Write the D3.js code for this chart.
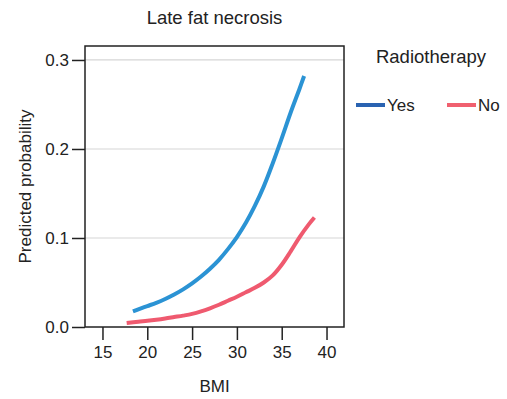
<!DOCTYPE html>
<html lang="en">
<head>
  <meta charset="UTF-8">
  <title>Late fat necrosis</title>
  <script src="https://d3js.org/d3.v7.min.js"></script>
  <style>
    body { margin: 0; background: #fff; }
    text { font-family: "Liberation Sans", Arial, sans-serif; fill: #222; }
  </style>
</head>
<body>
  <script>
    // Chart size
    const width = 507;
    const height = 399;
    const fontSize = 17;
    const titleSize = 18.5;

    // Plot area (pixels)
    const margin = { left: 85, right: 163, top: 46, bottom: 72 };

    // Data
    const yesBMI = [18.4, 19, 20, 21, 22, 23, 24, 25, 26, 27, 28, 29, 30, 31, 32, 33, 34, 35, 36, 37, 37.5];
    const yesProb = [0.0175, 0.0198, 0.0235, 0.0272, 0.0315, 0.0365, 0.0423, 0.049, 0.0567, 0.0655, 0.0755, 0.0875, 0.101, 0.117, 0.136, 0.158, 0.184, 0.212, 0.241, 0.268, 0.282];

    const noBMI = [17.7, 19, 20, 21, 22, 23, 24, 25, 26, 27, 28, 29, 30, 31, 32, 33, 34, 35, 36, 37, 38, 38.65];
    const noProb = [0.0045, 0.006, 0.007, 0.0082, 0.0096, 0.0112, 0.0128, 0.0147, 0.0175, 0.021, 0.025, 0.0295, 0.034, 0.039, 0.044, 0.050, 0.058, 0.070, 0.085, 0.101, 0.115, 0.123];

    const xTicks = [15, 20, 25, 30, 35, 40];
    const yTicks = [0.0, 0.1, 0.2, 0.3];

    const seriesNames = ["Yes", "No"];
    const lineColors = ["#2b93d4", "#ef5a6f"];
    const legendColors = ["#2a63b1", "#f0606f"];

    // Create an SVG element
    const svg = d3.select("body")
      .append("svg")
      .attr("width", width)
      .attr("height", height);

    const x = d3.scaleLinear()
      .domain([13.05, 41.95])
      .range([margin.left, width - margin.right]);

    const y = d3.scaleLinear()
      .domain([0, 0.3157])
      .range([height - margin.bottom, margin.top]);

    const plotCenter = (margin.left + width - margin.right) / 2;

    // Gridlines
    svg.append("g")
      .selectAll("line")
      .data(yTicks.filter(d => d > 0))
      .enter()
      .append("line")
      .attr("x1", margin.left)
      .attr("x2", width - margin.right)
      .attr("y1", d => y(d))
      .attr("y2", d => y(d))
      .attr("stroke", "#d6d6d6")
      .attr("stroke-width", 1.2);

    // Lines
    const line = d3.line()
      .x(d => x(d[0]))
      .y(d => y(d[1]))
      .curve(d3.curveCatmullRom);

    const series = [
      d3.zip(yesBMI, yesProb),
      d3.zip(noBMI, noProb)
    ];

    svg.append("g")
      .selectAll("path")
      .data(series)
      .enter()
      .append("path")
      .attr("d", line)
      .attr("fill", "none")
      .attr("stroke", (d, i) => lineColors[i])
      .attr("stroke-width", 4);

    // Frame
    svg.append("rect")
      .attr("x", margin.left)
      .attr("y", margin.top)
      .attr("width", width - margin.left - margin.right)
      .attr("height", height - margin.top - margin.bottom)
      .attr("fill", "none")
      .attr("stroke", "#222")
      .attr("stroke-width", 1.5);

    // Axes
    const xAxis = svg.append("g")
      .attr("transform", `translate(0,${height - margin.bottom})`)
      .call(d3.axisBottom(x).tickValues(xTicks).tickSize(13).tickPadding(6).tickFormat(d3.format("d")));

    const yAxis = svg.append("g")
      .attr("transform", `translate(${margin.left},0)`)
      .call(d3.axisLeft(y).tickValues(yTicks).tickSize(13).tickPadding(3).tickFormat(d3.format(".1f")));

    [xAxis, yAxis].forEach(g => {
      g.select(".domain").remove();
      g.selectAll(".tick line").attr("stroke", "#222").attr("stroke-width", 1.5);
      g.selectAll(".tick text")
        .attr("font-size", fontSize)
        .attr("font-family", "Liberation Sans, Arial, sans-serif")
        .attr("fill", "#222");
    });

    // Titles
    svg.append("text")
      .attr("x", plotCenter)
      .attr("y", 24)
      .attr("text-anchor", "middle")
      .attr("font-size", titleSize)
      .text("Late fat necrosis");

    svg.append("text")
      .attr("x", plotCenter)
      .attr("y", 392)
      .attr("text-anchor", "middle")
      .attr("font-size", fontSize)
      .text("BMI");

    svg.append("text")
      .attr("transform", `translate(31,${(margin.top + height - margin.bottom) / 2}) rotate(-90)`)
      .attr("text-anchor", "middle")
      .attr("font-size", fontSize)
      .text("Predicted probability");

    // Legend
    svg.append("text")
      .attr("x", 431)
      .attr("y", 63)
      .attr("text-anchor", "middle")
      .attr("font-size", titleSize)
      .text("Radiotherapy");

    const legendX = [356, 447];
    const legend = svg.append("g")
      .selectAll("g")
      .data(seriesNames)
      .enter()
      .append("g")
      .attr("transform", (d, i) => `translate(${legendX[i]},105)`);

    legend.append("line")
      .attr("x1", 0)
      .attr("x2", 29)
      .attr("stroke", (d, i) => legendColors[i])
      .attr("stroke-width", 4);

    legend.append("text")
      .attr("x", 31)
      .attr("y", 6)
      .attr("font-size", fontSize)
      .text(d => d);
  </script>
</body>
</html>
